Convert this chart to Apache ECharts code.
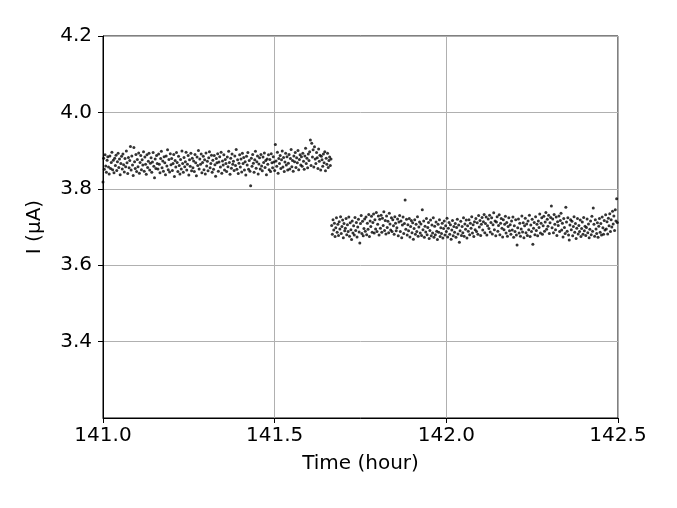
<!DOCTYPE html>
<html>
<head>
<meta charset="utf-8">
<script src="https://cdn.jsdelivr.net/npm/echarts@6/dist/echarts.min.js"></script>
<style>
  html, body { margin: 0; padding: 0; background: #ffffff; }
  #chart { width: 677px; height: 508px; }
</style>
</head>
<body>
<div id="chart"></div>
<script>
// Sampling grid (hours)
const timeStart = 141.0;
const timeStep = 0.002;

// Current readings in nA (divide by 1000 for µA), before the step
const currentBefore = [
  3818,3880,3851,3889,3860,3843,3875,3884,3857,3839,
  3886,3853,3869,3896,3850,3875,3842,3880,3861,3888,
  3848,3871,3893,3856,3878,3837,3866,3885,3852,3891,
  3863,3844,3879,3858,3899,3868,3840,3882,3855,3874,
  3911,3849,3886,3862,3835,3908,3871,3853,3890,3845,
  3877,3858,3894,3841,3869,3887,3850,3876,3862,3897,
  3846,3883,3864,3838,3889,3856,3872,3893,3849,3867,
  3881,3843,3870,3895,3859,3829,3878,3853,3887,3866,
  3852,3891,3864,3842,3879,3898,3855,3873,3846,3884,
  3868,3837,3886,3860,3902,3850,3877,3844,3892,3863,
  3879,3848,3866,3890,3832,3874,3857,3895,3869,3845,
  3885,3861,3839,3877,3852,3899,3866,3843,3882,3858,
  3871,3896,3849,3864,3887,3836,3876,3859,3893,3847,
  3880,3855,3873,3845,3890,3868,3834,3883,3861,3900,
  3852,3878,3864,3891,3842,3869,3885,3850,3876,3839,
  3894,3860,3872,3847,3881,3897,3855,3866,3888,3843,
  3875,3851,3887,3863,3833,3879,3868,3892,3846,3870,
  3884,3857,3896,3841,3873,3862,3889,3849,3877,3866,
  3845,3883,3858,3898,3869,3838,3880,3854,3891,3864,
  3872,3848,3886,3861,3903,3851,3876,3840,3867,3889,
  3857,3878,3844,3893,3866,3882,3849,3871,3836,3885,
  3862,3895,3851,3874,3846,3808,3880,3859,3890,3867,
  3843,3876,3898,3854,3871,3886,3839,3865,3881,3852,
  3890,3860,3847,3883,3869,3894,3856,3874,3837,3878,
  3864,3889,3850,3877,3845,3892,3868,3855,3884,3870,
  3848,3916,3873,3859,3896,3841,3879,3866,3887,3853,
  3876,3899,3857,3882,3845,3870,3893,3862,3884,3849,
  3867,3890,3852,3879,3903,3858,3874,3846,3886,3871,
  3895,3856,3881,3868,3900,3850,3877,3889,3862,3884,
  3859,3893,3872,3851,3886,3906,3866,3880,3855,3891,
  3874,3897,3928,3861,3919,3883,3902,3857,3910,3878,
  3866,3895,3881,3853,3904,3872,3888,3849,3885,3876,
  3859,3891,3868,3897,3847,3880,3864,3893,3856,3874,
  3883,3861,3878
];

// Current readings in nA, after the step
const currentAfter = [
  3704,3681,3719,3692,3710,3675,3698,3724,3686,3707,
  3678,3714,3695,3727,3683,3701,3718,3672,3709,3690,
  3697,3722,3680,3706,3688,3726,3676,3711,3693,3667,
  3716,3684,3703,3679,3725,3691,3712,3674,3700,3720,
  3687,3658,3709,3730,3683,3715,3677,3696,3721,3689,
  3726,3680,3710,3694,3733,3675,3716,3701,3728,3686,
  3712,3734,3684,3719,3695,3738,3688,3707,3729,3679,
  3720,3697,3731,3686,3723,3704,3740,3691,3717,3682,
  3729,3699,3715,3685,3736,3708,3692,3724,3688,3719,
  3703,3681,3727,3710,3690,3698,3721,3677,3713,3730,
  3688,3716,3672,3705,3726,3683,3709,3771,3694,3720,
  3679,3706,3690,3722,3674,3701,3717,3685,3711,3668,
  3696,3719,3681,3707,3688,3727,3676,3700,3713,3684,
  3708,3678,3745,3693,3716,3673,3702,3687,3722,3680,
  3699,3712,3670,3691,3718,3677,3705,3684,3724,3673,
  3702,3680,3713,3689,3667,3707,3686,3719,3675,3698,
  3683,3710,3671,3696,3716,3679,3703,3688,3723,3674,
  3697,3712,3681,3706,3668,3692,3717,3677,3701,3686,
  3709,3673,3699,3720,3682,3705,3660,3690,3715,3678,
  3701,3685,3724,3676,3708,3694,3718,3671,3703,3689,
  3719,3680,3710,3697,3727,3684,3706,3675,3714,3693,
  3722,3688,3711,3681,3730,3700,3717,3678,3707,3725,
  3692,3714,3733,3685,3709,3726,3679,3703,3721,3696,
  3731,3687,3712,3724,3682,3706,3737,3693,3716,3677,
  3713,3727,3689,3704,3732,3680,3710,3722,3697,3674,
  3719,3693,3707,3728,3684,3712,3676,3701,3724,3690,
  3706,3681,3716,3692,3726,3673,3703,3688,3719,3679,
  3653,3698,3721,3684,3710,3676,3695,3729,3687,3711,
  3672,3703,3723,3685,3708,3678,3716,3693,3731,3675,
  3705,3688,3720,3655,3697,3712,3680,3727,3691,3707,
  3677,3716,3699,3734,3684,3710,3724,3681,3703,3728,
  3689,3713,3738,3694,3720,3702,3731,3683,3711,3725,
  3755,3698,3721,3685,3733,3707,3693,3726,3678,3714,
  3704,3729,3688,3717,3736,3692,3710,3674,3722,3699,
  3683,3752,3713,3689,3724,3679,3666,3705,3719,3693,
  3715,3677,3701,3727,3686,3709,3670,3697,3722,3682,
  3704,3688,3718,3675,3696,3713,3681,3725,3690,3702,
  3678,3699,3721,3685,3708,3672,3694,3716,3680,3728,
  3689,3750,3707,3676,3719,3695,3683,3711,3673,3702,
  3722,3686,3709,3679,3726,3698,3681,3717,3692,3732,
  3695,3714,3682,3723,3703,3735,3688,3719,3700,3741,
  3708,3729,3691,3745,3716,3774,3712
];

const xTicks = [141.0, 141.5, 142.0, 142.5];
const yTicks = [3.4, 3.6, 3.8, 4.0, 4.2];

const allCurrent = currentBefore.concat(currentAfter);
const points = allCurrent.map((v, i) => [timeStart + i * timeStep, v / 1000]);

const font = 'DejaVu Sans';
const chart = echarts.init(document.getElementById('chart'), null, { renderer: 'canvas' });
chart.setOption({
  animation: false,
  backgroundColor: '#ffffff',
  grid: {
    left: 103, right: 59, top: 36, bottom: 90,
    show: true, borderColor: '#000000', borderWidth: 1, backgroundColor: 'transparent'
  },
  xAxis: {
    type: 'value',
    min: 141.0, max: 142.5, interval: 0.5,
    name: 'Time (hour)', nameLocation: 'middle', nameGap: 36,
    nameTextStyle: { fontFamily: font, fontSize: 20, color: '#000' },
    axisLine: { show: true, onZero: false, lineStyle: { color: '#000', width: 1 } },
    axisTick: { show: true, inside: false, length: 5, lineStyle: { color: '#000' }, customValues: xTicks },
    axisLabel: {
      fontFamily: font, fontSize: 20, color: '#000', margin: 8,
      customValues: xTicks,
      formatter: v => v.toFixed(1)
    },
    splitLine: { show: true, lineStyle: { color: '#b0b0b0', width: 1 } }
  },
  yAxis: {
    type: 'value',
    min: 3.2, max: 4.2, interval: 0.2,
    name: 'I (μA)', nameLocation: 'middle', nameGap: 58,
    nameTextStyle: { fontFamily: font, fontSize: 20, color: '#000' },
    axisLine: { show: true, onZero: false, lineStyle: { color: '#000', width: 1 } },
    axisTick: { show: true, inside: false, length: 5, lineStyle: { color: '#000' }, customValues: yTicks },
    axisLabel: {
      fontFamily: font, fontSize: 20, color: '#000', margin: 11,
      customValues: yTicks,
      formatter: v => v.toFixed(1)
    },
    splitLine: { show: true, lineStyle: { color: '#b0b0b0', width: 1 } }
  },
  series: [{
    type: 'scatter',
    data: points,
    symbol: 'circle',
    symbolSize: 3,
    itemStyle: { color: '#000000' },
    silent: true
  }]
});
</script>
</body>
</html>
